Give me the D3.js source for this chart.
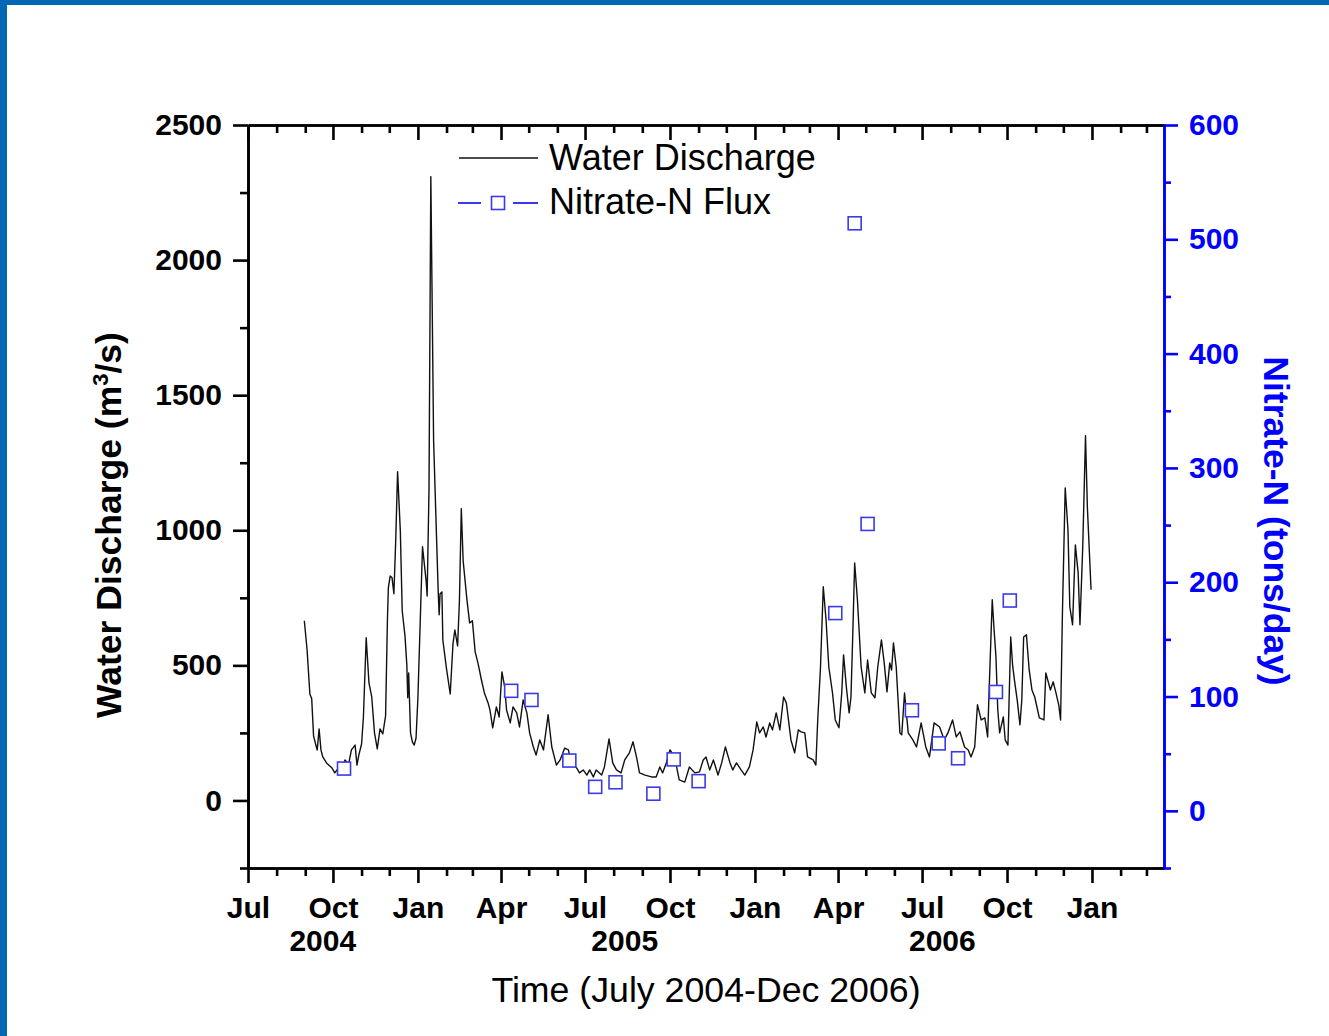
<!DOCTYPE html>
<html>
<head>
<meta charset="utf-8">
<script src="https://cdn.jsdelivr.net/npm/d3@7"></script>
<style>
  html, body { margin: 0; padding: 0; background: #ffffff; }
  svg { display: block; }
</style>
</head>
<body>
<svg id="chart" width="1329" height="1036"></svg>
<script>
// Daily water discharge (m3/s), key vertices of the hydrograph
const dischargeDates = [
  "2004-08-31","2004-09-03","2004-09-06","2004-09-08","2004-09-10","2004-09-13","2004-09-14","2004-09-16","2004-09-18","2004-09-20",
  "2004-09-24","2004-09-30","2004-10-03","2004-10-07","2004-10-10","2004-10-14","2004-10-18","2004-10-21","2004-10-25","2004-10-27",
  "2004-10-29","2004-11-01","2004-11-03","2004-11-06","2004-11-09","2004-11-12","2004-11-15","2004-11-18","2004-11-21","2004-11-24",
  "2004-11-27","2004-11-29","2004-11-30","2004-12-02","2004-12-04","2004-12-06","2004-12-08","2004-12-10","2004-12-13","2004-12-15",
  "2004-12-18","2004-12-20","2004-12-21","2004-12-22","2004-12-24","2004-12-26","2004-12-28","2004-12-30","2005-01-01","2005-01-04",
  "2005-01-06","2005-01-10","2005-01-11","2005-01-13","2005-01-15","2005-01-18","2005-01-21","2005-01-23","2005-01-24","2005-01-25",
  "2005-01-27","2005-01-28","2005-02-01","2005-02-05","2005-02-08","2005-02-10","2005-02-13","2005-02-15","2005-02-17","2005-02-19",
  "2005-02-23","2005-02-26","2005-03-01","2005-03-04","2005-03-07","2005-03-11","2005-03-14","2005-03-18","2005-03-20","2005-03-23",
  "2005-03-27","2005-03-30","2005-04-02","2005-04-05","2005-04-07","2005-04-11","2005-04-14","2005-04-18","2005-04-21","2005-04-25",
  "2005-04-29","2005-05-02","2005-05-06","2005-05-09","2005-05-13","2005-05-17","2005-05-22","2005-05-26","2005-05-31","2005-06-04",
  "2005-06-09","2005-06-13","2005-06-16","2005-06-22","2005-06-25","2005-06-29","2005-07-03","2005-07-06","2005-07-10","2005-07-13",
  "2005-07-19","2005-07-22","2005-07-27","2005-07-31","2005-08-04","2005-08-09","2005-08-13","2005-08-18","2005-08-22","2005-08-26",
  "2005-08-29","2005-09-04","2005-09-11","2005-09-16","2005-09-20","2005-09-23","2005-09-27","2005-10-01","2005-10-06","2005-10-11",
  "2005-10-17","2005-10-22","2005-10-28","2005-11-02","2005-11-06","2005-11-09","2005-11-13","2005-11-17","2005-11-22","2005-11-26",
  "2005-11-30","2005-12-05","2005-12-08","2005-12-12","2005-12-17","2005-12-21","2005-12-26","2005-12-30","2006-01-03","2006-01-06",
  "2006-01-10","2006-01-13","2006-01-17","2006-01-20","2006-01-24","2006-01-28","2006-02-01","2006-02-04","2006-02-09","2006-02-13",
  "2006-02-17","2006-02-20","2006-02-24","2006-02-27","2006-03-05","2006-03-08","2006-03-10","2006-03-13","2006-03-16","2006-03-19",
  "2006-03-22","2006-03-26","2006-03-29","2006-04-02","2006-04-05","2006-04-07","2006-04-10","2006-04-13","2006-04-15","2006-04-17",
  "2006-04-19","2006-04-22","2006-04-26","2006-04-30","2006-05-03","2006-05-07","2006-05-11","2006-05-14","2006-05-18","2006-05-21",
  "2006-05-24","2006-05-27","2006-05-29","2006-05-31","2006-06-03","2006-06-07","2006-06-09","2006-06-12","2006-06-16","2006-06-21",
  "2006-06-25","2006-06-30","2006-07-05","2006-07-09","2006-07-14","2006-07-20","2006-07-25","2006-07-29","2006-08-03","2006-08-07",
  "2006-08-11","2006-08-16","2006-08-20","2006-08-23","2006-08-27","2006-08-30","2006-09-03","2006-09-07","2006-09-10","2006-09-12",
  "2006-09-15","2006-09-17","2006-09-19","2006-09-21","2006-09-23","2006-09-27","2006-09-29","2006-10-02","2006-10-05","2006-10-07",
  "2006-10-09","2006-10-12","2006-10-15","2006-10-17","2006-10-19","2006-10-22","2006-10-25","2006-10-28","2006-10-31","2006-11-05",
  "2006-11-10","2006-11-12","2006-11-17","2006-11-20","2006-11-23","2006-11-26","2006-11-28","2006-11-30","2006-12-03","2006-12-06",
  "2006-12-08","2006-12-11","2006-12-14","2006-12-17","2006-12-19","2006-12-22","2006-12-25","2006-12-27","2006-12-31"
];
const dischargeValues = [
  665,557,394,376,239,198,187,265,187,161,
  139,120,102,120,102,150,135,187,205,131,
  168,209,309,602,435,383,250,191,265,246,
  313,669,787,831,824,765,965,1217,994,702,
  609,502,380,472,250,217,205,231,380,717,
  939,809,757,1146,2309,1332,994,772,687,765,
  772,594,487,394,580,631,572,742,1080,887,
  746,657,665,550,509,443,398,361,335,269,
  346,309,476,420,335,287,346,324,272,372,
  324,250,198,168,224,187,317,198,131,150,
  194,187,139,120,102,113,94,113,87,113,
  94,124,228,139,113,102,150,176,217,157,
  102,94,87,87,124,102,139,187,161,76,
  68,124,102,106,150,161,113,150,94,139,
  198,139,113,139,113,94,124,187,291,250,
  272,235,287,261,324,261,383,361,224,176,
  261,254,250,161,150,131,298,494,791,669,
  494,398,298,269,398,539,420,324,383,620,
  879,742,494,398,520,398,380,494,594,509,
  402,509,483,583,494,250,243,398,250,224,
  198,287,198,161,287,272,224,250,298,235,
  254,198,187,161,198,354,298,306,235,446,
  743,631,532,335,250,309,224,205,605,502,
  446,372,280,372,605,613,483,409,383,306,
  298,472,409,439,398,354,298,694,1157,1002,
  717,650,946,843,650,939,1350,1087,780
];

// Nitrate-N flux samples (tons/day)
const nitrateDates = [
  "2004-10-13","2005-04-12","2005-05-04","2005-06-14","2005-07-12","2005-08-03","2005-09-13","2005-10-05","2005-11-01",
  "2006-03-29","2006-04-19","2006-05-03","2006-06-20","2006-07-19","2006-08-09","2006-09-19","2006-10-04"
];
const nitrateValues = [37, 105, 97, 44, 21, 25, 15, 45, 26, 173, 514, 251, 88, 59, 46, 104, 184];

// Axis ticks and labels
const quarterTicks = [
  "2004-07-01","2004-10-01","2005-01-01","2005-04-01","2005-07-01","2005-10-01",
  "2006-01-01","2006-04-01","2006-07-01","2006-10-01","2007-01-01"
];
const quarterLabels = ["Jul","Oct","Jan","Apr","Jul","Oct","Jan","Apr","Jul","Oct","Jan"];
const yearLabelDates = ["2004-09-20","2005-08-13","2006-07-23"];
const yearLabels = ["2004","2005","2006"];
const leftTicks = [0, 500, 1000, 1500, 2000, 2500];
const leftMinorTicks = [-250, 250, 750, 1250, 1750, 2250];
const rightTicks = [0, 100, 200, 300, 400, 500, 600];
const rightMinorTicks = [-50, 50, 150, 250, 350, 450, 550];

const FONT = "'Liberation Sans', Arial, Helvetica, sans-serif";
const BLUE = "#0000ff";
const MARK = "#3a3aea";

const parse = d3.utcParse("%Y-%m-%d");
const svg = d3.select("#chart");

// page frame bands
svg.append("rect").attr("x", 0).attr("y", 0).attr("width", 1329).attr("height", 5).attr("fill", "#0068b2");
svg.append("rect").attr("x", 0).attr("y", 0).attr("width", 7).attr("height", 1036).attr("fill", "#0068b2");

const L = 248, R = 1164, T = 125, B = 868;
const x = d3.scaleUtc().domain([parse("2004-07-01"), parse("2007-03-20")]).range([L, R]);
const yL = d3.scaleLinear().domain([-250, 2500]).range([B, T]);
const yR = d3.scaleLinear().domain([-50, 600]).range([B, T]);

const quarters = quarterTicks.map(parse);
const qSet = new Set(quarters.map(d => +d));
const months = d3.utcMonth.range(x.domain()[0], x.domain()[1]).filter(d => !qSet.has(+d));

function styleAxis(g, color, width) {
  g.attr("font-family", FONT);
  g.select(".domain").attr("stroke", color).attr("stroke-width", width);
  g.selectAll(".tick line").attr("stroke", color).attr("stroke-width", width);
}

// bottom axis
const gxMinor = svg.append("g").attr("transform", `translate(0,${B})`)
  .call(d3.axisBottom(x).tickValues(months).tickSize(8).tickSizeOuter(0).tickFormat(""));
styleAxis(gxMinor, "#000", 2.6);
const gx = svg.append("g").attr("transform", `translate(0,${B})`)
  .call(d3.axisBottom(x).tickValues(quarters).tickSize(15).tickSizeOuter(0).tickPadding(14)
    .tickFormat((d, i) => quarterLabels[i]));
styleAxis(gx, "#000", 2.6);
gx.selectAll(".tick text").attr("font-size", 30).attr("font-weight", "bold").attr("fill", "#000");

// top axis, ticks pointing inward
const gtMinor = svg.append("g").attr("transform", `translate(0,${T})`)
  .call(d3.axisBottom(x).tickValues(months).tickSize(8).tickSizeOuter(0).tickFormat(""));
styleAxis(gtMinor, "#000", 2.6);
const gt = svg.append("g").attr("transform", `translate(0,${T})`)
  .call(d3.axisBottom(x).tickValues(quarters).tickSize(15).tickSizeOuter(0).tickFormat(""));
styleAxis(gt, "#000", 2.6);

// year labels under the month labels
svg.append("g").selectAll("text").data(yearLabels).join("text")
  .attr("x", (d, i) => x(parse(yearLabelDates[i])))
  .attr("y", 951)
  .attr("text-anchor", "middle")
  .attr("font-family", FONT).attr("font-size", 30).attr("font-weight", "bold")
  .text(d => d);

// left axis
const gyMinor = svg.append("g").attr("transform", `translate(${L},0)`)
  .call(d3.axisLeft(yL).tickValues(leftMinorTicks).tickSize(8).tickSizeOuter(0).tickFormat(""));
styleAxis(gyMinor, "#000", 2.6);
const gy = svg.append("g").attr("transform", `translate(${L},0)`)
  .call(d3.axisLeft(yL).tickValues(leftTicks).tickSize(15).tickSizeOuter(0).tickPadding(11).tickFormat(d3.format("d")));
styleAxis(gy, "#000", 2.6);
gy.selectAll(".tick text").attr("font-size", 30).attr("font-weight", "bold").attr("fill", "#000");

// right axis
const grMinor = svg.append("g").attr("transform", `translate(${R},0)`)
  .call(d3.axisRight(yR).tickValues(rightMinorTicks).tickSize(7).tickSizeOuter(0).tickFormat(""));
styleAxis(grMinor, BLUE, 2.6);
const gr = svg.append("g").attr("transform", `translate(${R},0)`)
  .call(d3.axisRight(yR).tickValues(rightTicks).tickSize(14).tickSizeOuter(0).tickPadding(11).tickFormat(d3.format("d")));
styleAxis(gr, BLUE, 2.6);
gr.selectAll(".tick text").attr("font-size", 30).attr("font-weight", "bold").attr("fill", BLUE);

// discharge line
const discharge = dischargeDates.map((d, i) => ({ date: parse(d), value: dischargeValues[i] }));
svg.append("path")
  .datum(discharge)
  .attr("fill", "none")
  .attr("stroke", "#111")
  .attr("stroke-width", 1.4)
  .attr("stroke-linejoin", "round")
  .attr("d", d3.line().x(d => x(d.date)).y(d => yL(d.value)));

// nitrate markers
const S = 13;
const nitrate = nitrateDates.map((d, i) => ({ date: parse(d), value: nitrateValues[i] }));
svg.append("g").selectAll("rect").data(nitrate).join("rect")
  .attr("x", d => x(d.date) - S / 2)
  .attr("y", d => yR(d.value) - S / 2)
  .attr("width", S).attr("height", S)
  .attr("fill", "#fff")
  .attr("stroke", MARK)
  .attr("stroke-width", 1.6);

// legend
const lg = svg.append("g");
lg.append("line").attr("x1", 459).attr("x2", 538).attr("y1", 158).attr("y2", 158)
  .attr("stroke", "#111").attr("stroke-width", 1.3);
lg.append("text").attr("x", 549).attr("y", 170)
  .attr("font-family", FONT).attr("font-size", 36).attr("fill", "#000").text("Water Discharge");
lg.append("line").attr("x1", 458).attr("x2", 481).attr("y1", 203).attr("y2", 203)
  .attr("stroke", MARK).attr("stroke-width", 2);
lg.append("line").attr("x1", 513).attr("x2", 538).attr("y1", 203).attr("y2", 203)
  .attr("stroke", MARK).attr("stroke-width", 2);
lg.append("rect").attr("x", 498 - S / 2).attr("y", 203 - S / 2).attr("width", S).attr("height", S)
  .attr("fill", "#fff").attr("stroke", MARK).attr("stroke-width", 1.6);
lg.append("text").attr("x", 549).attr("y", 214)
  .attr("font-family", FONT).attr("font-size", 36).attr("fill", "#000").text("Nitrate-N Flux");

// axis titles
const yt = svg.append("text")
  .attr("transform", "translate(121,525) rotate(-90)")
  .attr("text-anchor", "middle")
  .attr("font-family", FONT).attr("font-size", 35.5).attr("font-weight", "bold").attr("fill", "#000");
yt.append("tspan").text("Water Discharge (m");
yt.append("tspan").attr("dy", -13).attr("font-size", 22).text("3");
yt.append("tspan").attr("dy", 13).text("/s)");

svg.append("text")
  .attr("transform", "translate(1264,521) rotate(90)")
  .attr("text-anchor", "middle")
  .attr("font-family", FONT).attr("font-size", 35.5).attr("font-weight", "bold").attr("fill", BLUE)
  .text("Nitrate-N (tons/day)");

svg.append("text")
  .attr("x", 706).attr("y", 1002)
  .attr("text-anchor", "middle")
  .attr("font-family", FONT).attr("font-size", 35.7).attr("fill", "#000")
  .text("Time (July 2004-Dec 2006)");
</script>
</body>
</html>
